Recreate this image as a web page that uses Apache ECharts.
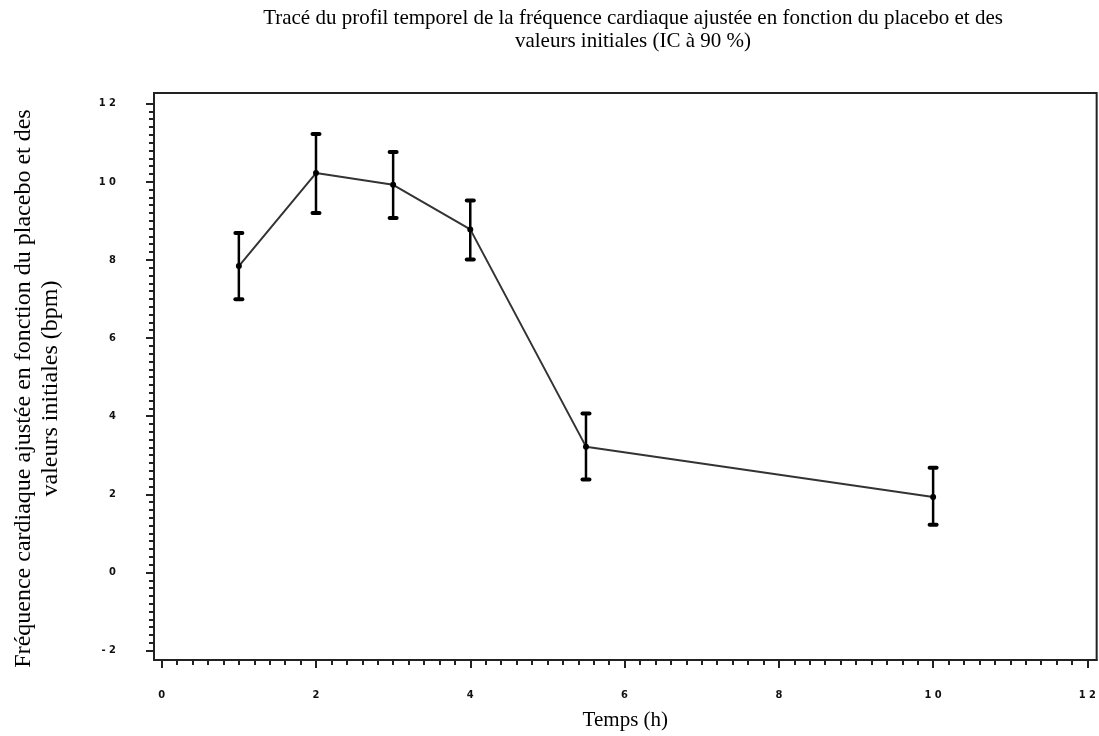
<!DOCTYPE html>
<html>
<head>
<meta charset="utf-8">
<script src="https://cdn.jsdelivr.net/npm/echarts@6/dist/echarts.min.js"></script>
<style>
  html, body { margin: 0; padding: 0; background: #fff; }
  #chart { width: 1099px; height: 736px; }
</style>
</head>
<body>
<div id="chart"></div>
<script>
// temps (h) et fréquence cardiaque ajustée, IC à 90 %
const times = [1, 2, 3, 4, 5.5, 10];
const means = [7.84, 10.22, 9.92, 8.78, 3.22, 1.93];
const upper = [8.69, 11.22, 10.76, 9.52, 4.07, 2.68];
const lower = [6.99, 9.20, 9.07, 8.01, 2.38, 1.22];

const xTicks = [0, 2, 4, 6, 8, 10, 12];
const yTicks = [-2, 0, 2, 4, 6, 8, 10, 12];

// petites graduations tous les 0.2
function minorTicks(from, to) {
  var out = [];
  for (var i = Math.round(from * 5); i <= Math.round(to * 5); i++) {
    if (i % 10 !== 0) out.push(i / 5);
  }
  return out;
}

const serif = 'Liberation Serif';
const tickFont = {
  fontFamily: 'DejaVu Sans Condensed',
  fontWeight: 'bold',
  fontSize: 11,
  color: '#111',
  formatter: function (v) { return String(v).split('').join(' '); }
};
const axisColor = '#222';

var myChart = echarts.init(document.getElementById('chart'));

myChart.setOption({
  animation: false,
  title: {
    text: 'Tracé du profil temporel de la fréquence cardiaque ajustée en fonction du placebo et des\nvaleurs initiales (IC à 90 %)',
    left: 628,
    top: 2,
    textAlign: 'center',
    textStyle: {
      fontFamily: serif,
      fontWeight: 'normal',
      fontSize: 21,
      lineHeight: 23,
      color: '#000'
    }
  },
  grid: {
    left: 154, right: 1, top: 93, bottom: 74,
    show: true,
    borderColor: axisColor,
    borderWidth: 2
  },
  xAxis: [
    {
      type: 'value',
      min: -0.1, max: 12.12,
      name: 'Temps (h)',
      nameLocation: 'middle',
      nameGap: 50,
      nameTextStyle: { fontFamily: serif, fontSize: 21, color: '#000' },
      axisLine: { show: true, onZero: false, lineStyle: { color: axisColor, width: 2 } },
      axisTick: { show: true, length: 8, customValues: xTicks, lineStyle: { color: axisColor, width: 2 } },
      axisLabel: Object.assign({ margin: 30, customValues: xTicks }, tickFont),
      splitLine: { show: false }
    },
    {
      type: 'value',
      min: -0.1, max: 12.12,
      position: 'bottom',
      axisLine: { show: false, onZero: false },
      axisTick: { show: true, length: 5, customValues: minorTicks(0, 12), lineStyle: { color: axisColor, width: 2 } },
      axisLabel: { show: false },
      splitLine: { show: false }
    }
  ],
  yAxis: [
    {
      type: 'value',
      min: -2.24, max: 12.27,
      name: 'Fréquence cardiaque ajustée en fonction du placebo et des\nvaleurs initiales (bpm)',
      nameLocation: 'middle',
      nameGap: 90,
      nameTextStyle: { fontFamily: serif, fontSize: 24, lineHeight: 27, color: '#000', padding: [0, 24, 0, 0] },
      axisLine: { show: true, onZero: false, lineStyle: { color: axisColor, width: 2 } },
      axisTick: { show: true, length: 8, customValues: yTicks, lineStyle: { color: axisColor, width: 2 } },
      axisLabel: Object.assign({ margin: 38, customValues: yTicks }, tickFont),
      splitLine: { show: false }
    },
    {
      type: 'value',
      min: -2.24, max: 12.27,
      position: 'left',
      axisLine: { show: false, onZero: false },
      axisTick: { show: true, length: 5, customValues: minorTicks(-2, 12), lineStyle: { color: axisColor, width: 2 } },
      axisLabel: { show: false },
      splitLine: { show: false }
    }
  ],
  series: [
    {
      type: 'custom',
      name: 'IC 90 %',
      renderItem: function (params, api) {
        var x = api.value(0);
        var top = api.coord([x, api.value(1)]);
        var bot = api.coord([x, api.value(2)]);
        var cap = 3.5;
        var capStyle = { stroke: '#000', lineWidth: 4, lineCap: 'round' };
        return {
          type: 'group',
          children: [
            { type: 'line', shape: { x1: top[0], y1: top[1], x2: bot[0], y2: bot[1] }, style: { stroke: '#000', lineWidth: 2.5 } },
            { type: 'line', shape: { x1: top[0] - cap, y1: top[1], x2: top[0] + cap, y2: top[1] }, style: capStyle },
            { type: 'line', shape: { x1: bot[0] - cap, y1: bot[1], x2: bot[0] + cap, y2: bot[1] }, style: capStyle }
          ]
        };
      },
      encode: { x: 0, y: [1, 2] },
      data: times.map(function (t, i) { return [t, upper[i], lower[i]]; }),
      z: 3
    },
    {
      type: 'line',
      name: 'Moyenne',
      data: times.map(function (t, i) { return [t, means[i]]; }),
      symbol: 'circle',
      symbolSize: 6,
      itemStyle: { color: '#000' },
      lineStyle: { color: '#333', width: 2 },
      z: 4
    }
  ]
});
</script>
</body>
</html>
